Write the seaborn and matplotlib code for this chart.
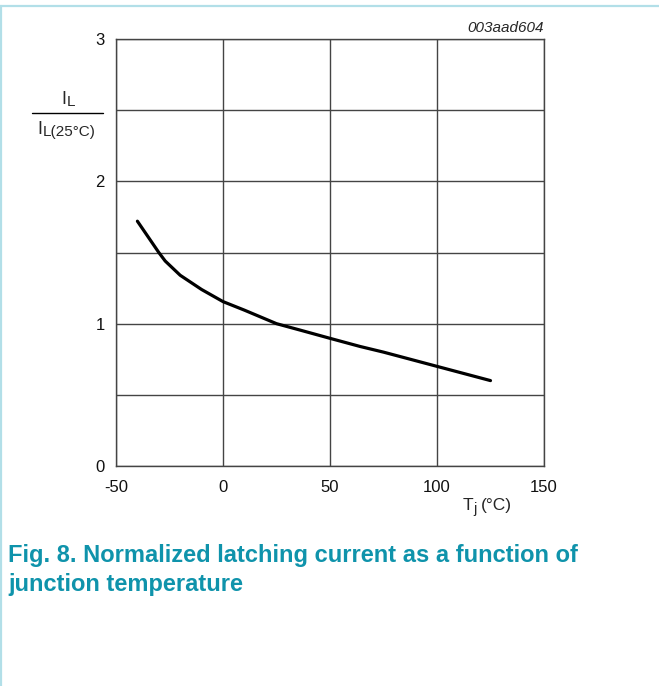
import numpy as np
import pandas as pd
import matplotlib
matplotlib.use('Agg')
import matplotlib.pyplot as plt
from matplotlib.lines import Line2D
import seaborn as sns

# values
tj = [-40, -35, -30, -27, -20, -15, -10, 0, 10, 25, 36, 50, 64, 75, 100, 125]
il_norm = [1.72, 1.61, 1.50, 1.44, 1.34, 1.29, 1.24, 1.155, 1.095, 1.00,
           0.955, 0.897, 0.84, 0.80, 0.70, 0.60]
x_ticks = [-50, 0, 50, 100, 150]
y_ticks = [0, 1, 2, 3]

sns.set_style('white')
plt.rcParams['font.family'] = ['Liberation Sans', 'DejaVu Sans']
plt.rcParams['axes.unicode_minus'] = False

W, H = 659, 686


def px(x, y):
    # pixel position -> figure fraction
    return x / W, 1 - y / H


df = pd.DataFrame({'Tj': tj, 'IL': il_norm})

fig = plt.figure(figsize=(W / 100, H / 100), dpi=100)
ax = fig.add_axes([116 / W, 1 - 466 / H, 428 / W, 427 / H])

sns.lineplot(data=df, x='Tj', y='IL', ax=ax, color='black', linewidth=2.3)

ax.set_xlim(-50, 150)
ax.set_ylim(0, 3)
ax.set_xticks(x_ticks)
ax.set_yticks(y_ticks)
ax.set_yticks(np.arange(0, 3.01, 0.5), minor=True)
ax.grid(True, which='major', color='#444444', linewidth=1.0)
ax.grid(True, which='minor', axis='y', color='#444444', linewidth=1.0)
ax.tick_params(axis='both', which='both', length=0, labelsize=12, colors='#111111')
ax.tick_params(axis='x', pad=10)
ax.tick_params(axis='y', pad=8)
for s in ax.spines.values():
    s.set_color('#444444')
    s.set_linewidth(1.0)
ax.set_xlabel('')
ax.set_ylabel('')

# y label as a fraction I_L / I_L(25°C)
fig.text(*px(61, 104), 'I', ha='left', va='baseline', fontsize=13)
fig.text(*px(66.5, 106.5), 'L', ha='left', va='baseline', fontsize=11)
fig.add_artist(Line2D([32 / W, 103 / W], [1 - 112.5 / H, 1 - 112.5 / H],
                      color='black', linewidth=1.0))
fig.text(*px(37, 133.5), 'I', ha='left', va='baseline', fontsize=13)
fig.text(*px(42.5, 136), 'L(25°C)', ha='left', va='baseline', fontsize=11)

# x label T_j (°C)
fig.text(*px(463, 510), 'T', ha='left', va='baseline', fontsize=12.5)
fig.text(*px(473.8, 513), 'j', ha='left', va='baseline', fontsize=10.5)
fig.text(*px(480.5, 510), '(°C)', ha='left', va='baseline', fontsize=12.5)

ax.text(1.0, 1.009, '003aad604', transform=ax.transAxes, ha='right', va='bottom',
        fontsize=11, style='italic')

# caption
cap_color = '#0f93ab'
fig.text(*px(8, 562), 'Fig. 8. Normalized latching current as a function of',
         ha='left', va='baseline', fontsize=17, fontweight='bold', color=cap_color)
fig.text(*px(8, 591), 'junction temperature',
         ha='left', va='baseline', fontsize=17, fontweight='bold', color=cap_color)

# light frame lines at top and left
fig.add_artist(Line2D([0, 1], [1 - 5.5 / H, 1 - 5.5 / H], color='#b2dfe8', linewidth=1.6))
fig.add_artist(Line2D([1 / W, 1 / W], [0, 1 - 5.5 / H], color='#b2dfe8', linewidth=1.6))

fig.savefig('out.png', dpi=100)
